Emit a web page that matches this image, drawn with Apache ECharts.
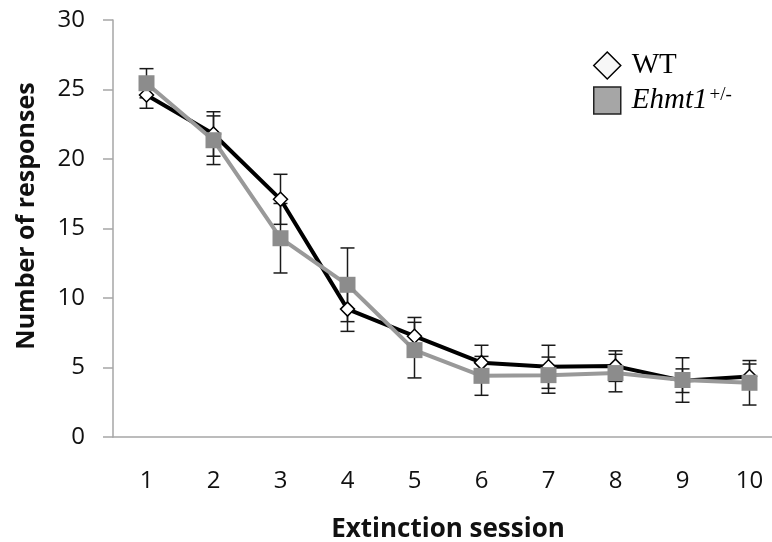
<!DOCTYPE html>
<html>
<head>
<meta charset="utf-8">
<script src="https://cdn.jsdelivr.net/npm/echarts@6/dist/echarts.min.js"></script>
<style>html,body{margin:0;padding:0;background:#fff}#c{width:772px;height:542px}</style>
</head>
<body>
<div id="c"></div>
<script>
var categories = ['1','2','3','4','5','6','7','8','9','10'];
var yTicks = [0, 5, 10, 15, 20, 25, 30];
var wt      = [24.6, 21.8, 17.1, 9.2, 7.25, 5.35, 5.05, 5.1, 4.05, 4.35];
var wtErr   = [0.95, 1.6, 1.8, 1.6, 1.35, 1.25, 1.55, 1.1, 0.85, 0.9];
var ehmt    = [25.45, 21.35, 14.3, 10.95, 6.25, 4.4, 4.45, 4.6, 4.1, 3.9];
var ehmtErr = [1.05, 1.75, 2.5, 2.65, 2.0, 1.4, 1.3, 1.35, 1.6, 1.6];

function errData(vals, errs) {
  return vals.map(function (v, i) { return [i, v - errs[i], v + errs[i]]; });
}
function errRender(params, api) {
  var x = api.value(0);
  var lo = api.coord([x, api.value(1)]);
  var hi = api.coord([x, api.value(2)]);
  var w = 7;
  var st = { stroke: '#1a1a1a', lineWidth: 1.5 };
  return {
    type: 'group',
    children: [
      { type: 'line', shape: { x1: lo[0], y1: lo[1], x2: hi[0], y2: hi[1] }, style: st },
      { type: 'line', shape: { x1: lo[0] - w, y1: lo[1], x2: lo[0] + w, y2: lo[1] }, style: st },
      { type: 'line', shape: { x1: hi[0] - w, y1: hi[1], x2: hi[0] + w, y2: hi[1] }, style: st }
    ]
  };
}

var chart = echarts.init(document.getElementById('c'), null, { renderer: 'canvas' });
var labelFont = '"Open Sans", sans-serif';
chart.setOption({
  animation: false,
  backgroundColor: '#ffffff',
  grid: { left: 113, top: 20, bottom: 105, right: -11, containLabel: false, outerBoundsMode: 'none' },
  xAxis: {
    type: 'category',
    data: categories,
    boundaryGap: true,
    axisLine: { lineStyle: { color: '#a6a6a6', width: 1.5 } },
    axisTick: { show: false },
    axisLabel: { color: '#111', fontFamily: labelFont, fontSize: 24, margin: 32 },
    name: 'Extinction session',
    nameLocation: 'middle',
    nameGap: 80,
    nameTextStyle: { color: '#111', fontFamily: labelFont, fontSize: 26, fontWeight: 'bold' },
    splitLine: { show: false }
  },
  yAxis: {
    type: 'value',
    min: yTicks[0],
    max: yTicks[yTicks.length - 1],
    interval: 5,
    axisLine: { show: true, lineStyle: { color: '#a6a6a6', width: 1.5 } },
    axisTick: { show: true, inside: false, length: 10, lineStyle: { color: '#a6a6a6', width: 1.5 } },
    axisLabel: { color: '#111', fontFamily: labelFont, fontSize: 24, margin: 28 },
    splitLine: { show: false }
  },
  legend: {
    orient: 'vertical',
    left: 588,
    top: 46,
    itemWidth: 27,
    itemHeight: 27,
    itemGap: 6,
    icon: 'rect',
    data: [
      { name: 'WT', icon: 'diamond', itemStyle: { color: '#f7f7f7', borderColor: '#000', borderWidth: 1.5 } },
      { name: 'Ehmt1', icon: 'rect', itemStyle: { color: '#a6a6a6', borderColor: '#222', borderWidth: 1.5 } }
    ],
    formatter: function (n) {
      return n === 'WT' ? '{n|WT}' : '{i|Ehmt1}{s|+/-}';
    },
    textStyle: {
      rich: {
        n: { fontFamily: '"Liberation Serif", serif', fontSize: 29, color: '#000', padding: [0, 0, 0, 6] },
        i: { fontFamily: '"Liberation Serif", serif', fontStyle: 'italic', fontSize: 29, color: '#000', padding: [0, 0, 0, 6] },
        s: { fontFamily: '"Liberation Serif", serif', fontSize: 19, color: '#000', verticalAlign: 'top', padding: [0, 0, 10, 2] }
      }
    }
  },
  graphic: [
    {
      type: 'text',
      x: 27, y: 216,
      rotation: Math.PI / 2,
      style: {
        text: 'Number of responses',
        fill: '#111',
        font: 'bold 25px "Open Sans", sans-serif',
        textAlign: 'center',
        textVerticalAlign: 'middle'
      }
    }
  ],
  series: [
    {
      type: 'custom', name: 'wtErr', renderItem: errRender, data: errData(wt, wtErr), z: 1, silent: true,
      encode: { x: 0, y: [1, 2] }
    },
    {
      type: 'custom', name: 'ehmtErr', renderItem: errRender, data: errData(ehmt, ehmtErr), z: 1, silent: true,
      encode: { x: 0, y: [1, 2] }
    },
    {
      type: 'line', name: 'WT', data: wt, z: 3,
      symbol: 'diamond', symbolSize: 14, showAllSymbol: true,
      lineStyle: { color: '#000', width: 4 },
      itemStyle: { color: '#ffffff', borderColor: '#000', borderWidth: 1.5 }
    },
    {
      type: 'line', name: 'Ehmt1', data: ehmt, z: 4,
      symbol: 'rect', symbolSize: 16, showAllSymbol: true,
      lineStyle: { color: '#999999', width: 4 },
      itemStyle: { color: '#8c8c8c', borderWidth: 0 }
    }
  ]
});
</script>
</body>
</html>
